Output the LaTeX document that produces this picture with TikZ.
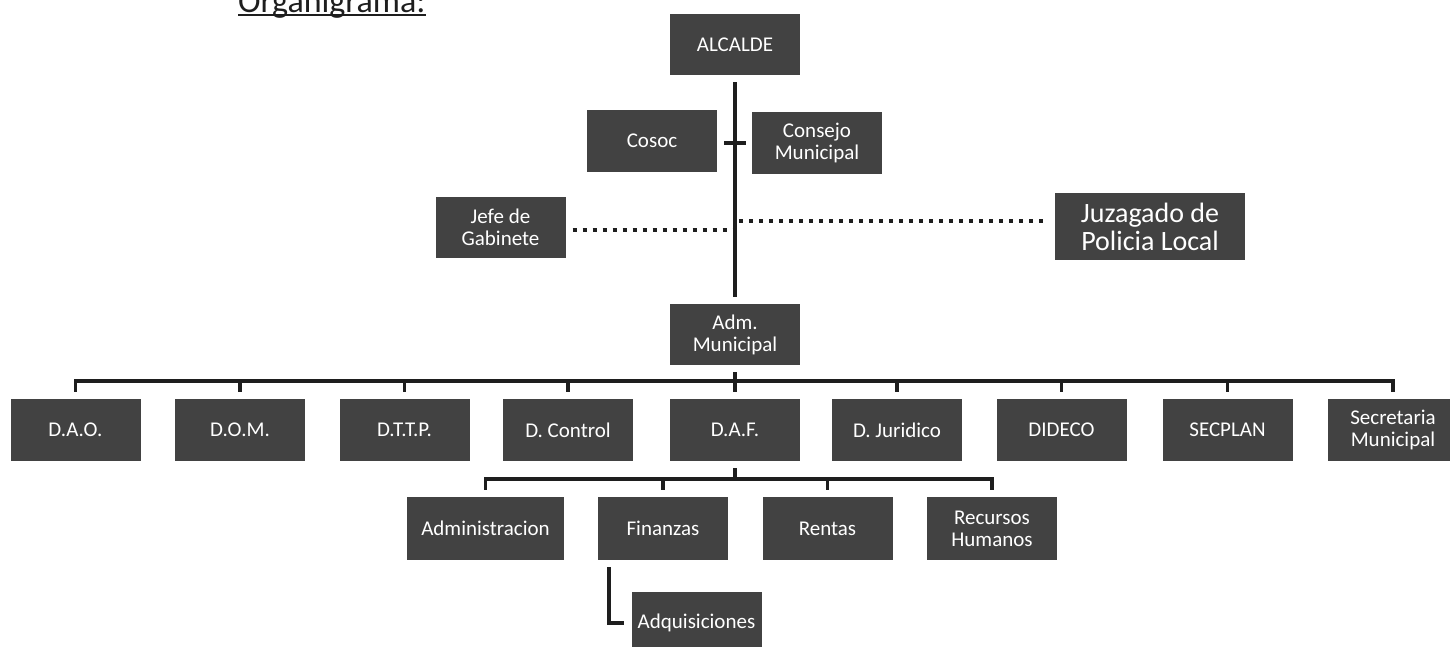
\documentclass[tikz,border=0pt]{standalone}
\usepackage{fontspec}
\setmainfont{Carlito}
\definecolor{boxfill}{RGB}{66,66,66}
\definecolor{inkc}{RGB}{30,30,30}
\begin{document}
\begin{tikzpicture}[x=1pt,y=-1pt,
  box/.style={fill=boxfill, text=white, inner sep=0pt, align=center,
    font=\fontsize{21}{22}\selectfont, minimum width=130pt, minimum height=62pt},
  wbox/.style={box, minimum width=157pt, minimum height=63pt},
  bigbox/.style={box, minimum width=190pt, minimum height=67pt,
    font=\fontsize{28}{28}\selectfont},
  conn/.style={draw=inkc, line width=3.5pt},
  trunk/.style={draw=inkc, line width=4.5pt},
  dots/.style={draw=inkc, line width=4pt, dash pattern=on 4pt off 6pt}]
\useasboundingbox (0,0) rectangle (1450,647);

% title
\node[anchor=base west, inner sep=0pt, font=\fontsize{34}{40}\selectfont, text=inkc] (title) at (238,13) {Organigrama:};
\draw[inkc, line width=2pt] ([yshift=-2.5pt]title.base west) -- ([yshift=-2.5pt]title.base east);

% top part
\node[box, minimum height=61pt] (alc) at (735,44.5) {ALCALDE};
\node[box] (cosoc) at (652,141) {Cosoc};
\node[box] (consejo) at (817,143) {Consejo\\Municipal};
\node[box, minimum height=61pt] (jefe) at (500.5,227.5) {Jefe de\\Gabinete};
\node[bigbox] (juz) at (1150,226.5) {Juzagado de\\Policia Local};
\node[box, minimum height=61pt] (adm) at (735,334.5) {Adm.\\Municipal};

% row of departments
\node[box] (dao) at (75.5,430) {D.A.O.};
\node[box] (dom) at (240,430) {D.O.M.};
\node[box] (dttp) at (404.5,430) {D.T.T.P.};
\node[box] (dcon) at (568,430) {D. Control};
\node[box] (daf) at (735,430) {D.A.F.};
\node[box] (djur) at (897,430) {D. Juridico};
\node[box] (dideco) at (1061.5,430) {DIDECO};
\node[box] (secplan) at (1227.5,430) {SECPLAN};
\node[box] (sec) at (1393,430) {Secretaria\\Municipal};

% DAF sub-units
\node[wbox] (admin) at (485.5,528.5) {Administracion};
\node[box, minimum height=63pt] (fin) at (663,528.5) {Finanzas};
\node[box, minimum height=63pt] (rentas) at (827.5,528.5) {Rentas};
\node[box, minimum height=63pt] (rrhh) at (992,528.5) {Recursos\\Humanos};
\node[box] (adq) at (696.5,623) {Adquisiciones};

% trunk
\draw[trunk] ([yshift=-7pt]alc.south) -- ([yshift=7pt]adm.north);
\coordinate (ct) at (alc.south |- consejo.west);
\draw[conn] ([xshift=-11pt]ct) -- ([xshift=11pt]ct);

% dotted staff links
\coordinate (jf) at ([yshift=-2.5pt]jefe.east);
\draw[dots, shorten <=7pt, shorten >=2pt] (jf) -- (jf -| alc.south);
\coordinate (jz) at ([yshift=5.5pt]juz.west);
\draw[dots, shorten <=4pt, shorten >=8pt] (jz -| alc.south) -- (jz);

% main bus
\coordinate (bus) at (0,381);
\draw[conn] ([yshift=-7pt]adm.south) -- ([yshift=7pt]daf.north);
\draw[conn] ([yshift=7pt]dao.north) |- (bus -| sec.north) -- ([yshift=7pt]sec.north);
\foreach \n in {dom,dttp,dcon,djur,dideco,secplan}
  \draw[conn] (bus -| \n.north) -- ([yshift=7pt]\n.north);

% sub bus
\coordinate (sbus) at (0,479);
\draw[conn] ([yshift=-7pt]daf.south) -- (daf.south |- sbus);
\draw[conn] ([yshift=7pt]admin.north) |- (sbus -| rrhh.north) -- ([yshift=7pt]rrhh.north);
\foreach \n in {fin,rentas}
  \draw[conn] (sbus -| \n.north) -- ([yshift=7pt]\n.north);

% Finanzas -> Adquisiciones
\draw[conn] ([xshift=11pt,yshift=-7pt]fin.south west) |- ([xshift=-7pt]adq.west);
\end{tikzpicture}
\end{document}
